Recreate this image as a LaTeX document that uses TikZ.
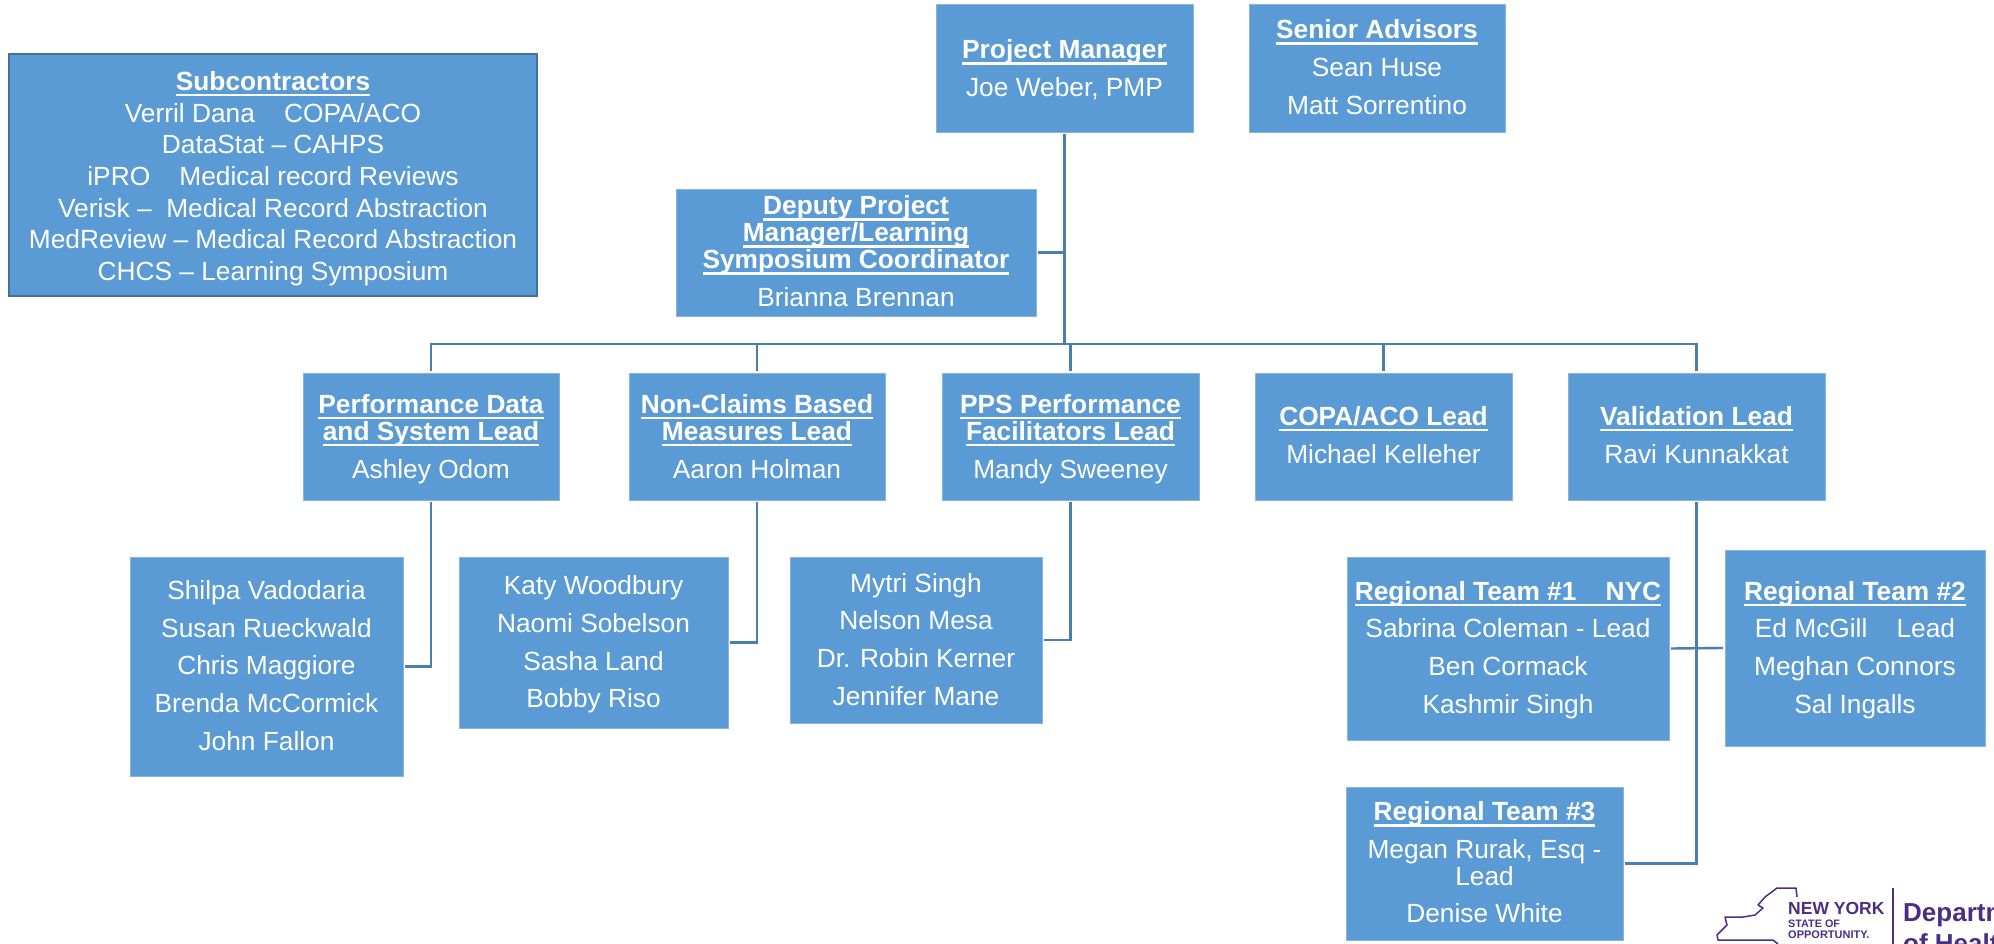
\documentclass[tikz,border=0pt]{standalone}
\usepackage{fontspec}
\setmainfont{Liberation Sans}
\definecolor{boxblue}{HTML}{5B9BD5}
\definecolor{boxedge}{HTML}{86B5E2}
\definecolor{subedge}{HTML}{41719C}
\definecolor{linkblue}{HTML}{4A7EAF}
\definecolor{logopurple}{HTML}{4B2E83}
\newcommand{\head}[1]{\leavevmode{\bfseries\setbox0=\hbox{#1}\rlap{\rule[-6pt]{\wd0}{2.6pt}}\box0}}
\newcommand{\topgap}[1]{\rule{0pt}{\dimexpr#1pt+1.2pt\relax}}
\newcommand{\botgap}[1]{\rule[\dimexpr-#1pt+1.2pt\relax]{0pt}{0pt}}
\tikzset{
  orgbox/.style={rectangle, fill=boxblue, draw=boxedge, line width=0.8pt, text=white, align=center,
    inner sep=0pt, outer sep=2pt, font=\fontsize{26.3}{37.7}\selectfont},
  leadbox/.style={orgbox, minimum height=127pt},
  orgline/.style={draw=linkblue, line width=2.4pt},
  logotext/.style={text=logopurple, inner sep=0pt, anchor=base west}
}
\begin{document}
\begin{tikzpicture}[x=1pt,y=-1pt]
  \useasboundingbox (0,0) rectangle (1994,944);

  % Subcontractors
  \node[orgbox, draw=subedge, line width=2pt, minimum width=528pt, minimum height=242pt,
    font=\fontsize{26.3}{31.7}\selectfont] (subs) at (273,175)
    {\topgap{35.5}\head{Subcontractors}\\
     Verril Dana~~~~COPA/ACO\\
     DataStat – CAHPS\\
     iPRO~~~~Medical record Reviews\\
     Verisk –~~Medical Record Abstraction\\
     MedReview – Medical Record Abstraction\\
     CHCS – Learning Symposium\botgap{17}};

  % Top of the chart
  \node[leadbox, minimum width=257pt] (manager) at (1064.5,68.5)
    {\topgap{53}\head{Project Manager}\\ Joe Weber, PMP\botgap{37}};
  \node[leadbox, minimum width=256pt] (senior) at (1377,68.5)
    {\topgap{33}\head{Senior Advisors}\\ Sean Huse\\ Matt Sorrentino\botgap{19}};
  \node[leadbox, minimum width=360pt] (deputy) at (856,252.5)
    {\topgap{24}\head{Deputy Project}\\[-10.7pt] \head{Manager/Learning}\\[-10.7pt]
     \head{Symposium Coordinator}\\ Brianna Brennan\botgap{10}};

  % Row of leads
  \node[leadbox, minimum width=256pt] (perf) at (431,436.5)
    {\topgap{39}\head{Performance Data}\\[-10.7pt] \head{and System Lead}\\ Ashley Odom\botgap{23}};
  \node[leadbox, minimum width=256pt] (nonclaims) at (757,436.5)
    {\topgap{39}\head{Non-Claims Based}\\[-10.7pt] \head{Measures Lead}\\ Aaron Holman\botgap{23}};
  \node[leadbox, minimum width=257pt] (pps) at (1070.5,436.5)
    {\topgap{39}\head{PPS Performance}\\[-10.7pt] \head{Facilitators Lead}\\ Mandy Sweeney\botgap{23}};
  \node[leadbox, minimum width=257pt] (copa) at (1383.5,436.5)
    {\topgap{51}\head{COPA/ACO Lead}\\ Michael Kelleher\botgap{38}};
  \node[leadbox, minimum width=257pt] (valid) at (1696.5,436.5)
    {\topgap{51}\head{Validation Lead}\\ Ravi Kunnakkat\botgap{38}};

  % Staff under the leads
  \node[orgbox, minimum width=273pt, minimum height=219pt] (perfstaff) at (266.5,666.5)
    {\topgap{41}Shilpa Vadodaria\\ Susan Rueckwald\\ Chris Maggiore\\ Brenda McCormick\\ John Fallon\botgap{27}};
  \node[orgbox, minimum width=269pt, minimum height=171pt] (nonclaimsstaff) at (593.5,642.5)
    {\topgap{36}Katy Woodbury\\ Naomi Sobelson\\ Sasha Land\\ Bobby Riso\botgap{21}};
  \node[orgbox, minimum width=252pt, minimum height=166pt] (ppsstaff) at (916,640)
    {\topgap{34}Mytri Singh\\ Nelson Mesa\\ Dr. Robin Kerner\\ Jennifer Mane\botgap{19}};

  % Regional teams
  \node[orgbox, minimum width=322pt, minimum height=183pt] (teamone) at (1508,648.5)
    {\topgap{42}\head{Regional Team \#1~~~~NYC}\\ Sabrina Coleman - Lead\\ Ben Cormack\\ Kashmir Singh\botgap{28}};
  \node[orgbox, minimum width=260pt, minimum height=196pt] (teamtwo) at (1855,648)
    {\topgap{49}\head{Regional Team \#2}\\ Ed McGill~~~~Lead\\ Meghan Connors\\ Sal Ingalls\botgap{34}};
  \node[orgbox, minimum width=277pt, minimum height=153pt] (teamthree) at (1484.5,863.5)
    {\topgap{32}\head{Regional Team \#3}\\ Megan Rurak, Esq -\\[-10.7pt] Lead\\ Denise White\botgap{18}};

  % Connectors
  \coordinate (bus) at (1064.5,344);
  \draw[orgline] (manager.south) -- (bus);
  \draw[orgline] (deputy.east) -- (deputy.east -| bus);
  \draw[orgline] (perf.north) |- (bus) -| (valid.north);
  \draw[orgline] (nonclaims.north) -- (nonclaims.north |- bus);
  \draw[orgline] (pps.north) -- (pps.north |- bus);
  \draw[orgline] (copa.north) -- (copa.north |- bus);
  \draw[orgline] (perf.south) |- (perfstaff.east);
  \draw[orgline] (nonclaims.south) |- (nonclaimsstaff.east);
  \draw[orgline] (pps.south) |- (ppsstaff.east);
  \draw[orgline] (valid.south) |- (teamthree.east);
  \draw[orgline] (teamone.east) -- (teamtwo.west);

  % Logo in the corner, cut by the page
  \begin{scope}
    \clip (0,0) rectangle (1994,944);
    \draw[logopurple, line width=1.5pt, line join=round] (1797,897) -- (1796,888) -- (1777,888) -- (1765,897)
      -- (1758,905) -- (1763,908) -- (1755,915) -- (1743,917) -- (1725,917) -- (1727,925)
      -- (1717,935) -- (1718,940) -- (1773,940) -- (1778,944);
    \draw[logopurple, line width=1.2pt] (1893,888) -- (1893,944);
    \node[logotext, font=\fontsize{17.5}{20}\selectfont\bfseries] (logony) at (1788,914) {NEW YORK};
    \node[logotext, font=\fontsize{10.8}{12}\selectfont\bfseries] (logostate) at (1788,927) {STATE OF};
    \node[logotext, font=\fontsize{11}{12}\selectfont\bfseries] (logoopp) at (1788,938) {OPPORTUNITY.};
    \node[logotext, font=\fontsize{26}{30}\selectfont\bfseries] (logodept) at (1903,921) {Department};
    \node[logotext, font=\fontsize{26}{30}\selectfont\bfseries] (logohealth) at (1903,952) {of Health};
  \end{scope}
\end{tikzpicture}
\end{document}
